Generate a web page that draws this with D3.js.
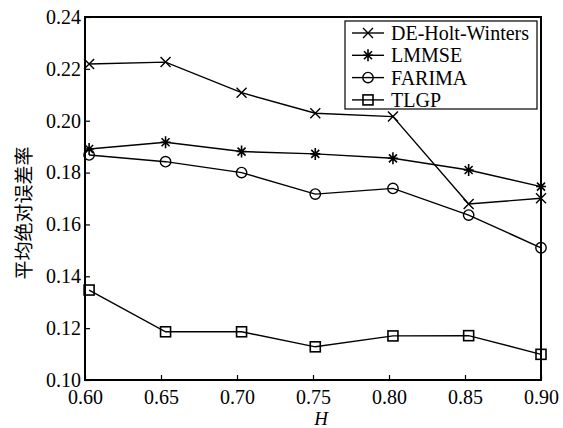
<html>
<head>
    <script src="https://d3js.org/d3.v7.min.js"></script>
    <style>
        body { margin: 0; background: #fff; }
        svg text { font-family: "Liberation Serif", Tinos, "Times New Roman", "DejaVu Serif", serif; fill: #000; }
        .tick-label { font-size: 20px; }
        .legend-text { font-size: 20px; }
        .ylabel { font-family: "Noto Sans CJK SC", sans-serif; font-size: 19px; }
        .series { fill: none; stroke: #000; stroke-width: 1.4; }
    </style>
</head>
<body>
    <svg id="chart"></svg>

    <script>
        // H values (points sit slightly right of the tick marks in the source)
        const hValues = [0.6027, 0.653, 0.703, 0.7515, 0.8026, 0.8524, 0.90];
        const xTicks = [0.60, 0.65, 0.70, 0.75, 0.80, 0.85, 0.90];
        const yTicks = [0.10, 0.12, 0.14, 0.16, 0.18, 0.20, 0.22, 0.24];

        const deHoltWinters = [0.2219, 0.2226, 0.2108, 0.2029, 0.2016, 0.1679, 0.1701];
        const lmmse = [0.1891, 0.1917, 0.1881, 0.1872, 0.1855, 0.1810, 0.1746];
        const farima = [0.1868, 0.1842, 0.1800, 0.1717, 0.1739, 0.1636, 0.1510];
        const tlgp = [0.1347, 0.1186, 0.1186, 0.1128, 0.1170, 0.1171, 0.1099];

        const seriesNames = ["DE-Holt-Winters", "LMMSE", "FARIMA", "TLGP"];
        const seriesMarkers = ["x", "star", "circle", "square"];
        const seriesValues = [deHoltWinters, lmmse, farima, tlgp];

        const serif = '"Liberation Serif", Tinos, "Times New Roman", "DejaVu Serif", serif';

        const width = 563, height = 428;
        const margin = { top: 17, right: 22, bottom: 48, left: 85 };
        const plotW = width - margin.left - margin.right;
        const plotH = height - margin.top - margin.bottom;

        const svg = d3.select("#chart")
            .attr("width", width)
            .attr("height", height);

        const g = svg.append("g")
            .attr("transform", `translate(${margin.left},${margin.top})`);

        const x = d3.scaleLinear().domain([0.60, 0.90]).range([0, plotW]);
        const y = d3.scaleLinear().domain([0.10, 0.24]).range([plotH, 0]);

        // inward ticks on left and bottom
        const xAxis = g.append("g")
            .attr("transform", `translate(0,${plotH})`)
            .call(d3.axisBottom(x).tickValues(xTicks).tickSize(-5).tickPadding(10).tickFormat(d3.format(".2f")));
        const yAxis = g.append("g")
            .call(d3.axisLeft(y).tickValues(yTicks).tickSize(-5).tickPadding(5).tickFormat(d3.format(".2f")));

        [xAxis, yAxis].forEach(a => {
            a.attr("font-family", null).attr("font-size", null);
            a.select(".domain").remove();
            a.selectAll(".tick line").attr("stroke", "#000").attr("stroke-width", 1.2);
            a.selectAll(".tick text")
                .attr("class", "tick-label")
                .attr("fill", "#000")
                .style("font-family", serif)
                .style("font-size", "20px");
        });
        yAxis.selectAll(".tick text").attr("dx", 1);

        // frame
        g.append("rect")
            .attr("x", 0).attr("y", 0)
            .attr("width", plotW).attr("height", plotH)
            .attr("fill", "none").attr("stroke", "#000").attr("stroke-width", 2);

        function drawMarker(sel, type, cx, cy) {
            const m = sel.append("g").attr("transform", `translate(${cx},${cy})`)
                .attr("fill", "none").attr("stroke", "#000").attr("stroke-width", 1.4);
            if (type === "x") {
                m.append("path").attr("d", "M-5,-5L5,5M-5,5L5,-5");
            } else if (type === "star") {
                m.append("path").attr("d", "M-5,0L5,0M0,-6L0,6M-4,-4L4,4M-4,4L4,-4").attr("stroke-width", 1.6);
            } else if (type === "circle") {
                m.append("circle").attr("r", 5.2);
            } else {
                m.append("rect").attr("x", -5).attr("y", -5).attr("width", 10).attr("height", 10).attr("stroke-width", 1.6);
            }
        }

        const line = d3.line().x(d => x(d[0])).y(d => y(d[1]));

        seriesValues.forEach((vals, i) => {
            const pts = vals.map((v, j) => [hValues[j], v]);
            g.append("path").attr("class", "series").attr("d", line(pts));
            pts.forEach(p => drawMarker(g, seriesMarkers[i], x(p[0]), y(p[1])));
        });

        // legend
        const legend = svg.append("g").attr("transform", "translate(345,21)");
        legend.append("rect")
            .attr("width", 192).attr("height", 88)
            .attr("fill", "#fff").attr("stroke", "#000").attr("stroke-width", 1.2);
        seriesNames.forEach((name, i) => {
            const ly = 12 + i * 22.3;
            legend.append("line")
                .attr("x1", 7).attr("x2", 39).attr("y1", ly).attr("y2", ly)
                .attr("stroke", "#000").attr("stroke-width", 1.4);
            drawMarker(legend, seriesMarkers[i], 23, ly);
            legend.append("text")
                .attr("class", "legend-text")
                .attr("x", 46).attr("y", ly + 7)
                .style("font-family", serif)
                .text(name);
        });

        // axis titles
        svg.append("text")
            .attr("x", 321).attr("y", 425)
            .attr("text-anchor", "middle")
            .style("font-family", serif)
            .style("font-style", "italic")
            .style("font-size", "19px")
            .text("H");

        svg.append("text")
            .attr("class", "ylabel")
            .attr("text-anchor", "middle")
            .attr("transform", "translate(31,213)rotate(-90)")
            .text("平均绝对误差率");
    </script>
</body>
</html>
